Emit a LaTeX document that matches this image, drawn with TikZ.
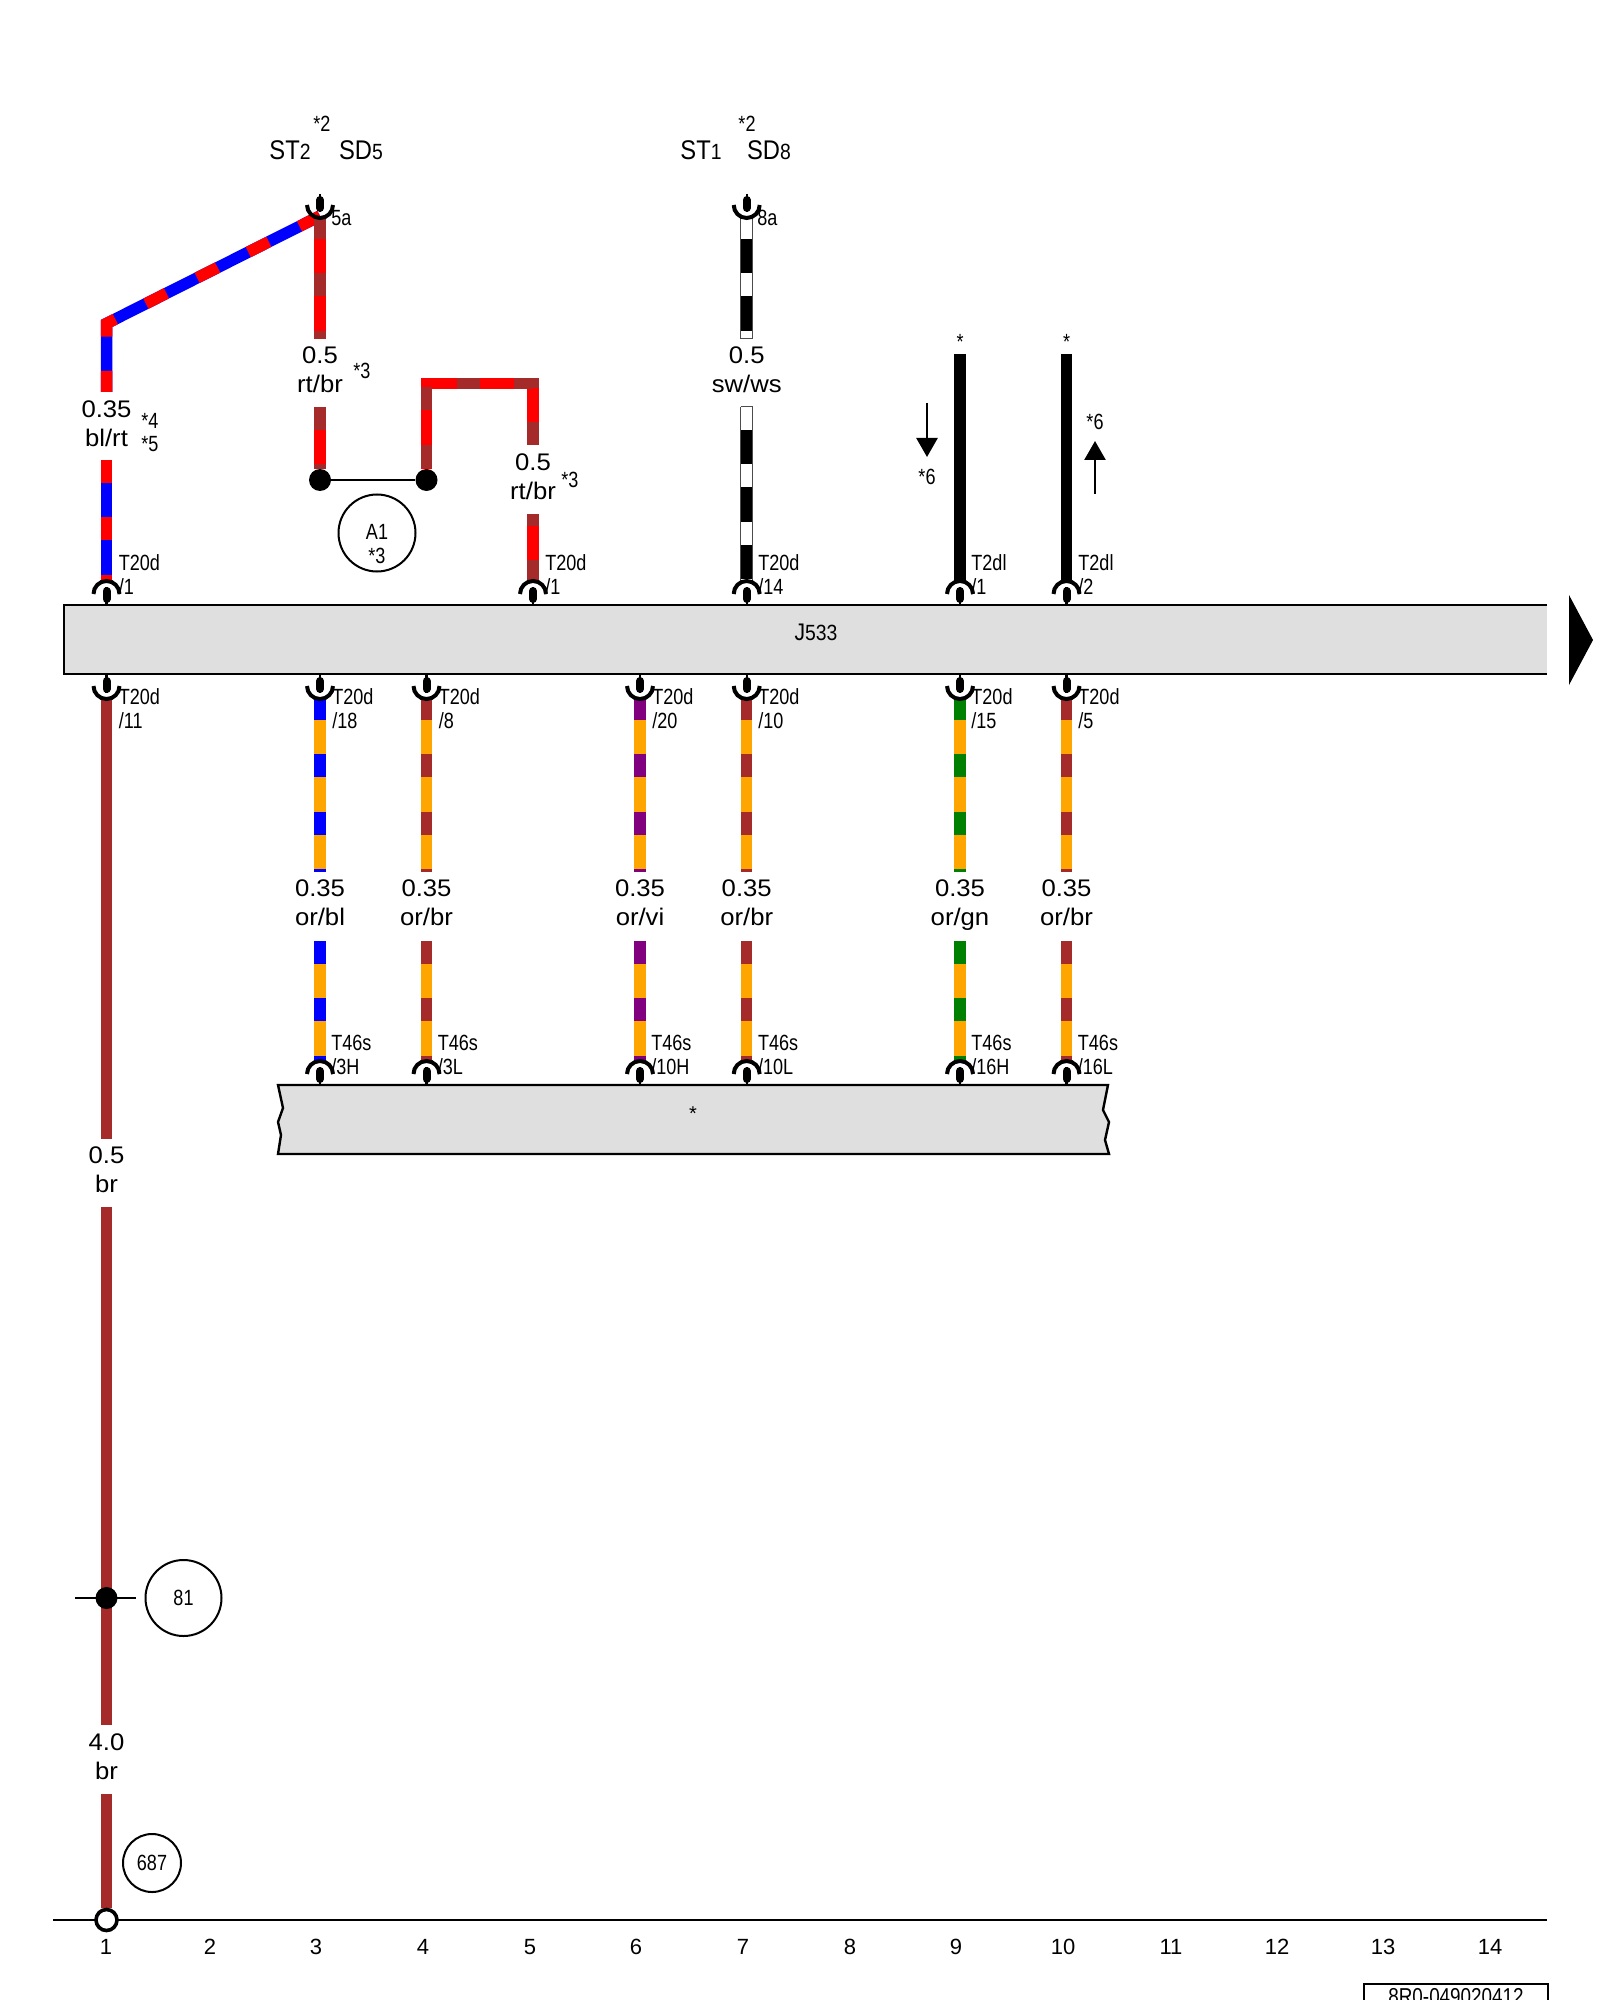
\documentclass[tikz,border=0pt]{standalone}
\usepackage{fontspec}
\setmainfont{Liberation Sans}
\newfontfamily\narrowfont[FakeStretch=0.82]{Liberation Sans}
\newfontfamily\busfont[FakeStretch=0.88]{Liberation Sans}
\newfontfamily\gaugefont[FakeStretch=1.07]{Liberation Sans}
\usepackage{tikz}
\usetikzlibrary{arrows.meta}
\definecolor{wirebrown}{HTML}{A52A2A}
\definecolor{wireorange}{HTML}{FFA500}
\definecolor{wiregreen}{HTML}{008000}
\definecolor{wirepurple}{HTML}{800080}
\definecolor{boxgray}{HTML}{DFDFDF}
\tikzset{>={Triangle[width=10.5pt,length=9.5pt]}}
\tikzset{
  wire/.style={line width=5.75pt},
  stripe/.style={line width=5.75pt, dash pattern=on 11.5pt off 17.15pt, dash phase=#1},
  cupdown/.pic={
    \draw[line width=1.1pt] (0,-22) to (0,-4);
    \draw[line width=4pt, line cap=round] (0,-16) to (0,-8);
    \draw[line width=2pt] (-13,-11) arc[start angle=180, end angle=0, radius=13];
  },
  cupup/.pic={
    \draw[line width=1.1pt] (0,23) to (0,5);
    \draw[line width=4pt, line cap=round] (0,17) to (0,9);
    \draw[line width=2pt] (-13,12) arc[start angle=180, end angle=360, radius=13];
  }
}
\newcommand{\stripewire}[4][0pt]{
  \draw[wire,#2] #4;
  \draw[stripe=#1,#3] #4;
}
\newcommand{\smallnum}[1]{{\fontsize{11}{11}\selectfont #1}}

\begin{document}
\begin{tikzpicture}[x=0.5pt,y=-0.5pt]
  \tikzstyle{gauge} = [align=center, inner sep=0pt, text depth=0pt, font=\gaugefont\fontsize{12}{14.5}\selectfont]
  \tikzstyle{pinlab} = [align=left, anchor=west, inner sep=0pt, font=\narrowfont\fontsize{11}{12}\selectfont]
  \tikzstyle{note} = [inner sep=0pt, align=center, font=\narrowfont\fontsize{11}{12}\selectfont]
  \tikzstyle{busname} = [inner sep=0pt, font=\busfont\fontsize{13.5}{15}\selectfont]
  \tikzstyle{tagnode} = [draw, circle, line width=1pt, inner sep=0pt, align=center, font=\narrowfont\fontsize{11}{12}\selectfont]
  \tikzstyle{dotnode} = [fill=black, circle, inner sep=0pt, minimum size=11pt]
  \tikzstyle{colnum} = [inner sep=0pt, font=\fontsize{11}{12}\selectfont]
  \useasboundingbox (0,0) rectangle (1600,2000);

  % control unit bar
  \fill[boxgray] (64,605) rectangle (1547,674);
  \draw[line width=1.2pt] (1547,605) -- (64,605) -- (64,674) -- (1547,674);
  \node[inner sep=0pt, font=\busfont\fontsize{12}{12}\selectfont] (j533) at (816,632) {J{\fontsize{11}{12}\selectfont 533}};
  \fill (1569,595) -- (1593,640) -- (1569,685) -- cycle;

  % bus box below
  \draw[fill=boxgray, line width=1.2pt] (278,1085) -- (1108,1085) -- (1103,1110) -- (1109,1122) -- (1105,1140) -- (1109,1154)
    -- (278,1154) -- (281,1135) -- (278,1122) -- (283,1108) -- cycle;
  \node[inner sep=0pt, font=\fontsize{10}{10}\selectfont] (busstar) at (693,1114) {*};

  % wire ends
  \coordinate (t1) at (106.5,582);
  \coordinate (t5) at (533,582);
  \coordinate (t7) at (746.7,582);
  \coordinate (t9) at (960,582);
  \coordinate (t10) at (1066.5,582);

  \coordinate (a3) at (320,216);
  \coordinate (a7) at (746.7,216);

  \coordinate (b1) at (106.5,697);
  \coordinate (b3) at (320,697);
  \coordinate (b4) at (426.5,697);
  \coordinate (b6) at (640,697);
  \coordinate (b7) at (746.7,697);
  \coordinate (b9) at (960,697);
  \coordinate (b10) at (1066.5,697);

  \coordinate (s3) at (320,1062);
  \coordinate (s4) at (426.5,1062);
  \coordinate (s6) at (640,1062);
  \coordinate (s7) at (746.7,1062);
  \coordinate (s9) at (960,1062);
  \coordinate (s10) at (1066.5,1062);

  % gauge labels
  \node[gauge] (g1) at (106.5,423.5) {0.35\\bl/rt};
  \node[gauge] (g3) at (320,370) {0.5\\rt/br};
  \node[gauge] (g5) at (533,477) {0.5\\rt/br};
  \node[gauge] (g7) at (746.7,370) {0.5\\sw/ws};
  \node[gauge] (h1) at (106.5,1169.5) {0.5\\br};
  \node[gauge] (k1) at (106.5,1757) {4.0\\br};
  \node[gauge] (h3) at (320,903) {0.35\\or/bl};
  \node[gauge] (h4) at (426.5,903) {0.35\\or/br};
  \node[gauge] (h6) at (640,903) {0.35\\or/vi};
  \node[gauge] (h7) at (746.7,903) {0.35\\or/br};
  \node[gauge] (h9) at (960,903) {0.35\\or/gn};
  \node[gauge] (h10) at (1066.5,903) {0.35\\or/br};

  % top wires
  \coordinate (c1) at (106.5,323.5);
  \coordinate (e1) at (106.5,392);
  \coordinate (f1) at (106.5,460);
  \stripewire{blue}{red}{(a3) -- (c1) -- (e1)}
  \stripewire{blue}{red}{(f1) to (t1)}

  \coordinate (e3) at (320,339);
  \coordinate (f3) at (320,407);
  \node[dotnode] (d3) at (320,480) {};
  \node[dotnode] (d4) at (426.5,480) {};
  \stripewire{red}{wirebrown}{(a3) to (e3)}
  \stripewire{red}{wirebrown}{(f3) to (d3)}
  \draw[line width=1.4pt] (d3) to (d4);

  \coordinate (c4) at (426.5,383.5);
  \coordinate (c5) at (533,383.5);
  \coordinate (e5) at (533,445);
  \coordinate (f5) at (533,514);
  \stripewire{red}{wirebrown}{(e5) -- (c5) -- (c4) -- (d4)}
  \stripewire[5.5pt]{red}{wirebrown}{(f5) to (t5)}

  \coordinate (e7) at (746.7,339);
  \coordinate (f7) at (746.7,407);
  \stripewire{black}{white}{(a7) to (e7)}
  \stripewire{black}{white}{(f7) to (t7)}
  % thin edges of the white stretches
  \draw[line width=0.5pt, black!70] ([xshift=-3pt]a7) to ([xshift=-3pt]e7);
  \draw[line width=0.5pt, black!70] ([xshift=3pt]a7) to ([xshift=3pt]e7);
  \draw[line width=0.5pt, black!70] ([xshift=-3pt]f7) to ([xshift=-3pt]t7);
  \draw[line width=0.5pt, black!70] ([xshift=3pt]f7) to ([xshift=3pt]t7);
  \draw[line width=0.5pt, black!70] ([xshift=-3pt]e7) to ([xshift=3pt]e7);
  \draw[line width=0.5pt, black!70] ([xshift=-3pt]f7) to ([xshift=3pt]f7);

  \coordinate (e9) at (960,354);
  \coordinate (e10) at (1066.5,354);
  \draw[wire] (e9) to (t9);
  \draw[wire] (e10) to (t10);

  % bottom wires
  \coordinate (l1) at (106.5,1139);
  \coordinate (m1) at (106.5,1207);
  \coordinate (n1) at (106.5,1725);
  \coordinate (o1) at (106.5,1794);
  \coordinate (z1) at (106.5,1908);
  \draw[wire, wirebrown] (b1) to (l1);
  \draw[wire, wirebrown] (m1) to (n1);
  \draw[wire, wirebrown] (o1) to (z1);

  \coordinate (l3) at (320,872);
  \coordinate (m3) at (320,941);
  \stripewire{wireorange}{blue}{(b3) to (l3)}
  \stripewire{wireorange}{blue}{(m3) to (s3)}
  \coordinate (l4) at (426.5,872);
  \coordinate (m4) at (426.5,941);
  \stripewire{wireorange}{wirebrown}{(b4) to (l4)}
  \stripewire{wireorange}{wirebrown}{(m4) to (s4)}
  \coordinate (l6) at (640,872);
  \coordinate (m6) at (640,941);
  \stripewire{wireorange}{wirepurple}{(b6) to (l6)}
  \stripewire{wireorange}{wirepurple}{(m6) to (s6)}
  \coordinate (l7) at (746.7,872);
  \coordinate (m7) at (746.7,941);
  \stripewire{wireorange}{wirebrown}{(b7) to (l7)}
  \stripewire{wireorange}{wirebrown}{(m7) to (s7)}
  \coordinate (l9) at (960,872);
  \coordinate (m9) at (960,941);
  \stripewire{wireorange}{wiregreen}{(b9) to (l9)}
  \stripewire{wireorange}{wiregreen}{(m9) to (s9)}
  \coordinate (l10) at (1066.5,872);
  \coordinate (m10) at (1066.5,941);
  \stripewire{wireorange}{wirebrown}{(b10) to (l10)}
  \stripewire{wireorange}{wirebrown}{(m10) to (s10)}

  % contacts
  \pic at (a3) {cupdown};
  \pic at (a7) {cupdown};
  \pic at (t1) {cupup};
  \pic at (t5) {cupup};
  \pic at (t7) {cupup};
  \pic at (t9) {cupup};
  \pic at (t10) {cupup};
  \pic at (b1) {cupdown};
  \pic at (b3) {cupdown};
  \pic at (b4) {cupdown};
  \pic at (b6) {cupdown};
  \pic at (b7) {cupdown};
  \pic at (b9) {cupdown};
  \pic at (b10) {cupdown};
  \pic at (s3) {cupup};
  \pic at (s4) {cupup};
  \pic at (s6) {cupup};
  \pic at (s7) {cupup};
  \pic at (s9) {cupup};
  \pic at (s10) {cupup};

  % contact labels
  \node[pinlab] (lt1) at (118.5,575) {T20d\\/1};
  \node[pinlab] (lt5) at (545,575) {T20d\\/1};
  \node[pinlab] (lt7) at (758,575) {T20d\\/14};
  \node[pinlab] (lt9) at (971,575) {T2dl\\/1};
  \node[pinlab] (lt10) at (1078,575) {T2dl\\/2};
  \node[pinlab] (lb1) at (118.5,708.5) {T20d\\/11};
  \node[pinlab] (lb3) at (332,708.5) {T20d\\/18};
  \node[pinlab] (lb4) at (438.5,708.5) {T20d\\/8};
  \node[pinlab] (lb6) at (652,708.5) {T20d\\/20};
  \node[pinlab] (lb7) at (758,708.5) {T20d\\/10};
  \node[pinlab] (lb9) at (971,708.5) {T20d\\/15};
  \node[pinlab] (lb10) at (1078,708.5) {T20d\\/5};
  \node[pinlab] (ls3) at (331,1055) {T46s\\/3H};
  \node[pinlab] (ls4) at (437.5,1055) {T46s\\/3L};
  \node[pinlab] (ls6) at (651,1055) {T46s\\/10H};
  \node[pinlab] (ls7) at (757.7,1055) {T46s\\/10L};
  \node[pinlab] (ls9) at (971,1055) {T46s\\/16H};
  \node[pinlab] (ls10) at (1077.5,1055) {T46s\\/16L};
  \node[pinlab] (la3) at (331,218) {5a};
  \node[pinlab] (la7) at (757,218) {8a};

  % bus names and notes
  \node[busname] (st2) at (290,150) {ST\smallnum{2}};
  \node[busname] (sd5) at (361,150) {SD\smallnum{5}};
  \node[busname] (st1) at (701,150) {ST\smallnum{1}};
  \node[busname] (sd8) at (769,150) {SD\smallnum{8}};
  \node[note] (n2a) at (322,124) {*2};
  \node[note] (n2b) at (747,124) {*2};
  \node[note] (n3a) at (362,371) {*3};
  \node[note] (n3b) at (570,480) {*3};
  \node[note] (n4) at (150,421) {*4};
  \node[note] (n5) at (150,444) {*5};
  \node[note] (n9) at (960,342) {*};
  \node[note] (n10) at (1066.5,342) {*};
  \node[note] (n6a) at (927,477) {*6};
  \node[note] (n6b) at (1095,422) {*6};

  % direction arrows
  \coordinate (r1) at (927,403);
  \coordinate (r2) at (927,457);
  \coordinate (r3) at (1095,494);
  \coordinate (r4) at (1095,441);
  \draw[->, line width=1.3pt] (r1) to (r2);
  \draw[->, line width=1.3pt] (r3) to (r4);

  % tags
  \node[tagnode, minimum size=38.5pt] (a1) at (377,533) {};
  \node[note] (a1text) at (377,544.5) {A1\\*3};
  \node[dotnode] (d1) at (106.5,1598) {};
  \coordinate (q1) at (75,1598);
  \coordinate (q2) at (136,1598);
  \draw[line width=1.2pt] (q1) to (q2);
  \node[tagnode, minimum size=38pt] (t81) at (183.5,1598) {81};
  \node[tagnode, minimum size=29pt] (t687) at (152,1863) {687};

  % ground line
  \coordinate (g0) at (53,1920);
  \coordinate (g2) at (1547,1920);
  \draw[line width=1.2pt] (g0) to (g2);
  \node[draw, fill=white, circle, line width=1.8pt, inner sep=0pt, minimum size=10.5pt] (g) at (106.5,1920) {};

  \node[colnum] (x1) at (106,1947) {1};
  \node[colnum] (x2) at (210,1947) {2};
  \node[colnum] (x3) at (316,1947) {3};
  \node[colnum] (x4) at (423,1947) {4};
  \node[colnum] (x5) at (530,1947) {5};
  \node[colnum] (x6) at (636,1947) {6};
  \node[colnum] (x7) at (743,1947) {7};
  \node[colnum] (x8) at (850,1947) {8};
  \node[colnum] (x9) at (956,1947) {9};
  \node[colnum] (x10) at (1063,1947) {10};
  \node[colnum] (x11) at (1171,1947) {11};
  \node[colnum] (x12) at (1277,1947) {12};
  \node[colnum] (x13) at (1383,1947) {13};
  \node[colnum] (x14) at (1490,1947) {14};

  % drawing number, cut by the page edge
  \draw[line width=1.2pt] (1364,2040) -- (1364,1984) -- (1548,1984) -- (1548,2040);
  \node[note, font=\narrowfont\fontsize{11.5}{12}\selectfont] (draw0) at (1456,1997) {8R0-049020412};
\end{tikzpicture}
\end{document}
